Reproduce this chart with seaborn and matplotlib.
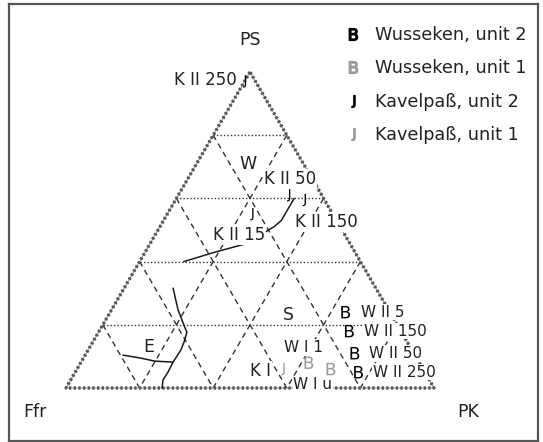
import numpy as np
import pandas as pd
import matplotlib
matplotlib.use("Agg")
import matplotlib.pyplot as plt
import seaborn as sns
from matplotlib.lines import Line2D

sns.set_style("white")
plt.rcParams["font.family"] = ["DejaVu Sans"]
plt.rcParams["mathtext.fontset"] = "dejavusans"

# sample compositions in %, PK = 100 - PS - Ffr
sample = ["K II 250", "K II 50", "K II 150", "K II 15", "K I",
          "W II 5", "W II 150", "W II 50", "W II 250", "W I 1", "W I u"]
site = ["Kavelpaß"] * 5 + ["Wusseken"] * 6
unit = ["unit 2", "unit 2", "unit 2", "unit 2", "unit 1",
        "unit 2", "unit 2", "unit 2", "unit 2", "unit 1", "unit 1"]
ps = [97, 61, 59.5, 55, 6, 24, 18, 11, 5, 8, 6]
ffr = [3, 9, 5.5, 22, 38, 12, 14, 16, 18, 30, 25]

# field boundaries (PS, Ffr in %)
bound_a_ps = [60, 57, 53, 51, 50, 46, 43, 40]
bound_a_ffr = [8, 11, 15, 18, 20, 27, 38, 48]
bound_b_ps = [31.6, 24.7, 19.3, 17.7, 14.6, 12.0, 8.2, 5.1, 2.5, 0]
bound_b_ffr = [55.1, 57.2, 58.1, 58.3, 60.6, 62.8, 66.8, 69.7, 72.4, 73.9]
bound_c_ps = [10.4, 9.5, 8.5, 8.2]
bound_c_ffr = [79.3, 75.1, 71.6, 66.8]

# field labels
field_names = ["W", "S", "E"]
field_ps = [71, 23, 13]
field_ffr = [15, 28, 71]

grid_levels = [20, 40, 60, 80]

H = np.sqrt(3) / 2


def tern(p, f):
    p = np.asarray(p, float) / 100
    f = np.asarray(f, float) / 100
    k = 1 - p - f
    return k + p / 2, p * H


# label offsets in pixels (dx, dy, ha)
label_off = {
    "K II 250": (-8, 1, "right"), "K II 50": (1, 16, "center"),
    "K II 150": (22, -22, "center"), "K II 15": (-13, -21, "center"),
    "K I": (-12, -2, "right"),
    "W II 5": (15, 0, "left"), "W II 150": (15, 0, "left"),
    "W II 50": (14, 0, "left"), "W II 250": (14, 0, "left"),
    "W I 1": (-5, 15, "center"), "W I u": (-18, -15, "center"),
}

fig = plt.figure(figsize=(5.43, 4.42), dpi=100)
ax = fig.add_axes([9 / 543, 1 / 442, 529 / 543, 437 / 442])
ax.set_xlim(-57 / 368, 472 / 368)
ax.set_ylim(-53 / 364.9, 384 / 364.9)
ax.set_xticks([])
ax.set_yticks([])
for s in ax.spines.values():
    s.set_color("#555555")
    s.set_linewidth(1.6)

gc = "#333333"
for g in grid_levels:
    x, y = tern([g, g], [100 - g, 0])
    ax.plot(x, y, color=gc, lw=1, ls=(0, (1, 1.5)), zorder=1)
    x, y = tern([100 - g, 0], [g, g])
    ax.plot(x, y, color=gc, lw=1, ls=(0, (4, 3)), zorder=1)
    x, y = tern([100 - g, 0], [0, 100 - g])
    ax.plot(x, y, color=gc, lw=1, ls=(0, (4, 3)), zorder=1)

# triangle outline
x, y = tern([100, 0, 0, 100], [0, 100, 0, 0])
ax.plot(x, y, color="#888888", lw=0.7, zorder=2)
ax.plot(x, y, color="#555555", lw=2.4, ls=(0, (0.7, 0.7)), zorder=2)

for bp, bf in [(bound_a_ps, bound_a_ffr), (bound_b_ps, bound_b_ffr), (bound_c_ps, bound_c_ffr)]:
    bx, by = tern(bp, bf)
    sns.lineplot(x=bx, y=by, sort=False, estimator=None, color="#1a1a1a", lw=1.1, ax=ax, zorder=3)

px, py = tern(ps, ffr)
df = pd.DataFrame({"sample": sample, "site": site, "unit": unit, "x": px, "y": py})
sns.scatterplot(data=df, x="x", y="y", hue="unit", style="site",
                markers={"Wusseken": "$\\mathrm{B}$", "Kavelpaß": "$\\mathrm{J}$"},
                palette={"unit 2": "black", "unit 1": "#9a9a9a"},
                s=80, linewidth=0, legend=False, ax=ax, zorder=6)
ax.set_xlabel("")
ax.set_ylabel("")

for _, r in df.iterrows():
    dx, dy, ha = label_off[r["sample"]]
    fs = 12 if r["sample"].startswith("K") else 11
    ax.annotate(r["sample"], (r["x"], r["y"]), xytext=(dx, dy), textcoords="offset pixels",
                ha=ha, va="center", fontsize=fs, color="#222222", zorder=5,
                bbox=dict(boxstyle="square,pad=0.05", fc="white", ec="none"))

fx, fy = tern(field_ps, field_ffr)
for n, x0, y0 in zip(field_names, fx, fy):
    ax.text(x0, y0, n, ha="center", va="center", fontsize=12.5, color="#222222", zorder=5)

ax.text(0.5, 0.954, "PS", ha="center", va="center", fontsize=12.5, color="#222222")
ax.text(-0.084, -0.066, "Ffr", ha="center", va="center", fontsize=12.5, color="#222222")
ax.text(1.092, -0.066, "PK", ha="center", va="center", fontsize=12.5, color="#222222")

handles = [
    Line2D([], [], marker="$\\mathrm{B}$", color="black", ls="none", markersize=8.5),
    Line2D([], [], marker="$\\mathrm{B}$", color="#9a9a9a", ls="none", markersize=8.5),
    Line2D([], [], marker="$\\mathrm{J}$", color="black", ls="none", markersize=8.5),
    Line2D([], [], marker="$\\mathrm{J}$", color="#9a9a9a", ls="none", markersize=8.5),
]
labels = ["Wusseken, unit 2", "Wusseken, unit 1", "Kavelpaß, unit 2", "Kavelpaß, unit 1"]
leg = ax.legend(handles, labels, loc="upper left", bbox_to_anchor=(335 / 543, (442 - 17) / 442),
                bbox_transform=fig.transFigure, frameon=False, fontsize=12.7,
                borderpad=0, handlelength=1.0, handletextpad=0.75, labelspacing=0.88)
for t in leg.get_texts():
    t.set_color("#222222")

fig.savefig("out.png", dpi=100)
